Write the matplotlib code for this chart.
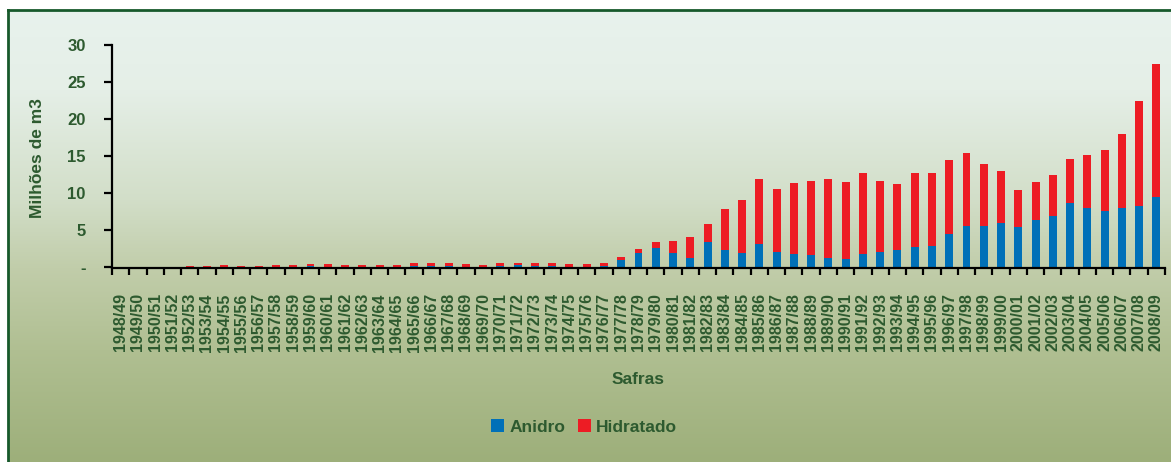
import numpy as np
import matplotlib
matplotlib.use("Agg")
import matplotlib.pyplot as plt

plt.rcParams['font.family'] = ['Liberation Sans', 'DejaVu Sans']
plt.rcParams['font.weight'] = 'bold'

# safras 1948/49 .. 2008/09
safras = [f"{y}/{str(y + 1)[-2:]}" for y in range(1948, 2009)]

anidro = [0, 0, 0, 0, 0, 0, 0, 0, 0, 0,
          0, 0.18, 0, 0, 0, 0, 0, 0.15, 0.13, 0.13,
          0, 0, 0.13, 0.27, 0.13, 0.13, 0, 0, 0.2, 1.0,
          1.92, 2.65, 1.88, 1.26, 3.41, 2.33, 1.88, 3.14, 2.06, 1.79,
          1.61, 1.26, 1.08, 1.82, 2.09, 2.38, 2.74, 2.91, 4.53, 5.61,
          5.61, 5.96, 5.43, 6.41, 6.95, 8.65, 8.03, 7.58, 8.03, 8.30,
          9.46]
hidratado = [0, 0, 0, 0, 0.22, 0.22, 0.36, 0.22, 0.22, 0.36,
             0.36, 0.31, 0.49, 0.36, 0.36, 0.36, 0.36, 0.48, 0.50, 0.50,
             0.49, 0.36, 0.50, 0.36, 0.50, 0.50, 0.49, 0.47, 0.40, 0.40,
             0.58, 0.76, 1.66, 2.82, 2.42, 5.52, 7.18, 8.74, 8.48, 9.56,
             10.00, 10.62, 10.40, 10.87, 9.52, 8.83, 9.95, 9.78, 9.91, 9.77,
             8.29, 7.00, 4.97, 5.07, 5.47, 5.92, 7.08, 8.20, 9.91, 14.08,
             18.03]

yticks = [0, 5, 10, 15, 20, 25, 30]
yticklabels = ['-', '5', '10', '15', '20', '25', '30']

txt = '#2d5a2f'
W, H = 1171, 462
fig = plt.figure(figsize=(W / 100, H / 100), dpi=100)

# background panel with vertical gradient
bg = fig.add_axes([8 / W, 0, 1 - 8 / W, 1 - 10 / H], zorder=0)
stops_y = np.array([0, 80, 190, 258, 340, 452]) / 452.0
stops_c = np.array([(232, 242, 237), (229, 239, 231), (210, 222, 200),
                    (193, 205, 170), (176, 191, 146), (157, 175, 122)]) / 255.0
yy = np.linspace(0, 1, 400)
grad = np.stack([np.interp(yy, stops_y, stops_c[:, i]) for i in range(3)], axis=-1)
bg.imshow(grad[:, None, :], aspect='auto', extent=[0, 1, 1, 0])
bg.set_xlim(0, 1)
bg.set_ylim(1, 0)
bg.set_xticks([])
bg.set_yticks([])
for s in ['right', 'bottom']:
    bg.spines[s].set_visible(False)
for s in ['left', 'top']:
    bg.spines[s].set_color('#17592b')
    bg.spines[s].set_linewidth(2)

ax = fig.add_axes([112 / W, 1 - 267.3 / H, (1165 - 112) / W, (267.3 - 45) / H], zorder=1)
ax.patch.set_alpha(0)
x = np.arange(len(safras))
ax.bar(x, anidro, width=0.46, color='#0070b8', label='Anidro')
ax.bar(x, hidratado, width=0.46, bottom=anidro, color='#ed1c24', label='Hidratado')

ax.set_xlim(-0.5, len(safras) - 0.5)
ax.set_ylim(0, 30)
for s in ['top', 'right']:
    ax.spines[s].set_visible(False)
for s in ['left', 'bottom']:
    ax.spines[s].set_linewidth(1.6)
    ax.spines[s].set_color('black')
ax.spines['bottom'].set_position(('outward', 0.6))

ax.set_yticks(yticks)
ax.set_yticklabels(yticklabels, fontsize=12, color=txt, fontweight='bold')
ax.tick_params(axis='y', direction='out', length=6, width=1.6, pad=13)

ax.set_xticks(x)
ax.set_xticklabels(safras, rotation=90, fontsize=11.5, color=txt, fontweight='bold')
ax.set_xticks(np.arange(len(safras) + 1) - 0.5, minor=True)
ax.tick_params(axis='x', which='major', length=0, pad=18)
ax.tick_params(axis='x', which='minor', direction='out', length=5, width=1.6)

fig.text(638 / W, 1 - 380 / H, 'Safras', ha='center', va='center',
         fontsize=12.5, color=txt, fontweight='bold')
fig.text(38 / W, 1 - 158 / H, 'Milhões de m3', ha='center', va='center',
         rotation=90, fontsize=12.5, color=txt, fontweight='bold')

handles, labels = ax.get_legend_handles_labels()
leg = fig.legend(handles, labels, loc='center', bbox_to_anchor=(584 / W, 1 - 427 / H),
                 ncol=2, frameon=False, fontsize=12.5, handlelength=0.75,
                 handleheight=0.75, handletextpad=0.3, columnspacing=0.7)
for t in leg.get_texts():
    t.set_color(txt)

fig.savefig('out.png', dpi=100)
